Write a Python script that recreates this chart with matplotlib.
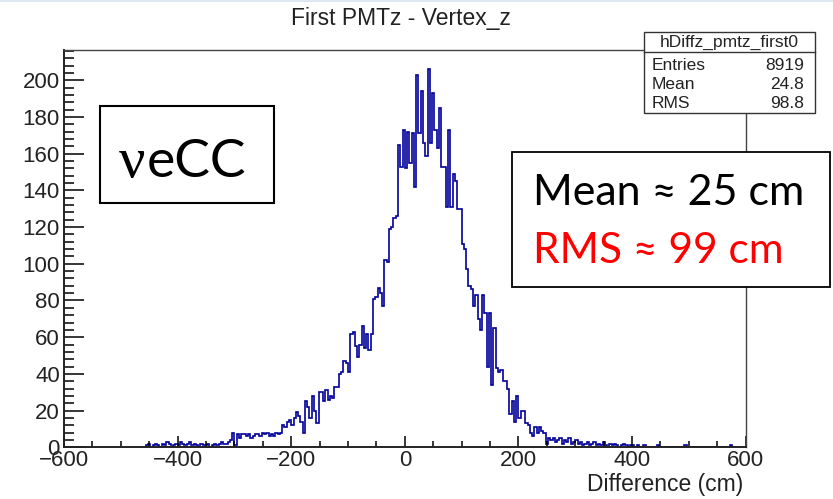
import matplotlib.pyplot as plt
import numpy as np
from matplotlib.patches import Rectangle
from matplotlib.lines import Line2D
from matplotlib.ticker import MultipleLocator

# histogram contents, 4 cm bins starting at -460 cm
bin_width = 4
first_edge = -460
counts = [
    0, 1, 2, 0, 1, 2, 1, 0, 2, 1,
    3, 2, 0, 1, 2, 1, 3, 2, 1, 2,
    3, 1, 2, 1, 0, 2, 1, 1, 2, 0,
    1, 2, 1, 2, 3, 2, 2, 3, 4, 8,
    1, 7, 5, 7, 7, 6, 7, 5, 6, 7,
    7, 6, 8, 7, 8, 6, 7, 6, 8, 7,
    8, 12, 11, 14, 15, 12, 16, 19, 17, 14,
    8, 25, 22, 16, 28, 20, 13, 30, 30, 25,
    31, 26, 28, 27, 33, 33, 40, 41, 47, 46,
    41, 62, 63, 55, 49, 56, 66, 54, 62, 53,
    62, 81, 82, 87, 84, 77, 102, 101, 119, 120,
    125, 126, 165, 153, 173, 152, 172, 155, 171, 142,
    203, 171, 194, 166, 159, 206, 166, 193, 173, 163,
    185, 153, 153, 131, 173, 131, 149, 145, 130, 130,
    111, 108, 97, 88, 86, 77, 83, 70, 64, 83,
    73, 44, 73, 34, 65, 43, 41, 42, 36, 36,
    32, 18, 25, 14, 28, 16, 20, 20, 13, 12,
    8, 6, 11, 8, 11, 9, 8, 2, 5, 4,
    5, 3, 4, 5, 2, 4, 3, 5, 2, 3,
    4, 2, 3, 1, 2, 3, 1, 2, 3, 1,
    2, 1, 3, 1, 0, 2, 1, 2, 1, 0,
    1, 2, 1, 0, 1, 1, 0, 1, 0, 0,
    1, 0, 0, 0, 0, 0, 1, 0, 0, 0,
    0, 0, 0, 0, 0, 0, 0, 0, 1, 0,
    0, 0, 0, 0, 0, 0, 0, 0, 0, 0,
    0, 0, 0, 0, 0, 0, 0, 0, 1, 0,
]
edges = first_edge + bin_width * np.arange(len(counts) + 1)

title = "First PMTz - Vertex_z"
xlabel = "Difference (cm)"
stat_name = "hDiffz_pmtz_first0"
stat_labels = ["Entries", "Mean", "RMS"]
stat_values = ["8919", "24.8", "98.8"]
channel = "eCC"
mean_text = "Mean \u2248 25 cm"
rms_text = "RMS \u2248 99 cm"

W, H = 833, 499
def fx(x):
    return x / W
def fy(y):
    return 1 - y / H

fig = plt.figure(figsize=(W / 100, H / 100), dpi=100)
fig.patch.set_facecolor('white')
fig.patches.append(Rectangle((0, fy(2)), 1, 2 / H, transform=fig.transFigure,
                             color='#dde7f3', lw=0))

ax = fig.add_axes([fx(64), fy(447.3), (745.7 - 64) / W, (447.3 - 50) / H])
ax.stairs(counts, edges, color='#000099', lw=1.2)
ax.set_xlim(-600, 600)
ax.set_ylim(0, 216.5)

ax.xaxis.set_major_locator(MultipleLocator(200))
ax.xaxis.set_minor_locator(MultipleLocator(50))
ax.yaxis.set_major_locator(MultipleLocator(20))
ax.yaxis.set_minor_locator(MultipleLocator(4))
lab = dict(family='Liberation Sans', size=16.5)
ax.tick_params(axis='x', which='major', direction='in', length=8, width=1.1, pad=2)
ax.tick_params(axis='x', which='minor', direction='in', length=4.3, width=1.1)
ax.tick_params(axis='y', which='major', direction='in', length=14.4, width=1.1, pad=3)
ax.tick_params(axis='y', which='minor', direction='in', length=7.2, width=1.1)
for t in ax.get_xticklabels() + ax.get_yticklabels():
    t.set_fontfamily('Liberation Sans')
    t.set_fontsize(16)
    t.set_color('#222222')
for s in ['left', 'bottom']:
    ax.spines[s].set_linewidth(1.4)
    ax.spines[s].set_color('#222222')
for s in ['top', 'right']:
    ax.spines[s].set_linewidth(1.0)
    ax.spines[s].set_color('#444444')

fig.text(fx(743), fy(491), xlabel, ha='right', va='baseline', color='#222222', **lab)
fig.text(fx(401), fy(25), title, ha='center', va='baseline', color='#222222', **lab)

# stats box
fig.patches.append(Rectangle((fx(644), fy(113)), (815 - 644) / W, (113 - 32) / H,
                             transform=fig.transFigure, facecolor='white',
                             edgecolor='#333333', lw=1.0, zorder=5))
fig.lines.append(Line2D([fx(644), fx(815)], [fy(52), fy(52)], transform=fig.transFigure,
                        color='#333333', lw=1.0, zorder=6))
fig.text(fx(729.5), fy(47), stat_name, ha='center', va='baseline', family='Liberation Sans',
         size=12.5, color='#222222', zorder=7)
for i, (l, v) in enumerate(zip(stat_labels, stat_values)):
    yb = 70 + i * 19.2
    fig.text(fx(652), fy(yb), l, ha='left', va='baseline', family='Liberation Sans',
             size=12.5, color='#222222', zorder=7)
    fig.text(fx(804), fy(yb), v, ha='right', va='baseline', family='Liberation Sans',
             size=12.5, color='#222222', zorder=7)

# channel box
fig.patches.append(Rectangle((fx(100), fy(203)), (274 - 100) / W, (203 - 106) / H,
                             transform=fig.transFigure, facecolor='white',
                             edgecolor='black', lw=1.5, zorder=5))
fig.text(fx(119), fy(177), "\u03bd", ha='left', va='baseline', family='Liberation Serif',
         size=42, color='black', zorder=7)
fig.text(fx(147), fy(177), channel, ha='left', va='baseline', family=['Lato', 'DejaVu Sans'],
         size=38.5, color='black', zorder=7)

# summary box
fig.patches.append(Rectangle((fx(512), fy(287)), (830 - 512) / W, (287 - 152) / H,
                             transform=fig.transFigure, facecolor='white',
                             edgecolor='black', lw=1.3, zorder=5))
fig.text(fx(533), fy(205), mean_text, ha='left', va='baseline', family=['Lato', 'DejaVu Sans'],
         size=31, color='black', zorder=7)
fig.text(fx(533), fy(263), rms_text, ha='left', va='baseline', family=['Lato', 'DejaVu Sans'],
         size=30.5, color='#ff0000', zorder=7)

fig.savefig("out.png", dpi=100)
